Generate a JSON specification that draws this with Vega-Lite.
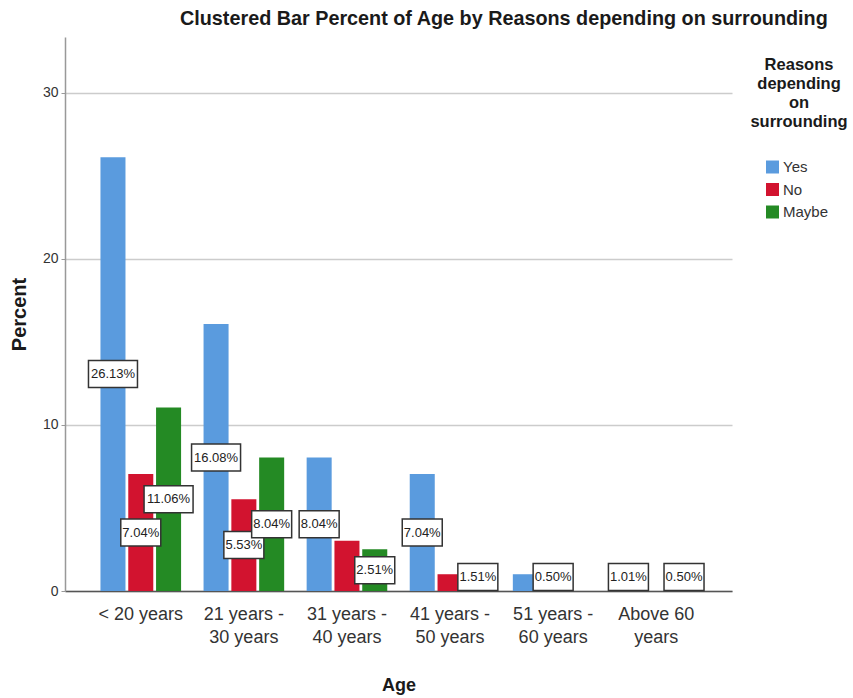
{
  "$schema": "https://vega.github.io/schema/vega-lite/v6.json",
  "width": 667,
  "height": 554,
  "autosize": {"type": "none"},
  "padding": {"left": 65, "top": 37, "right": 121, "bottom": 107},
  "background": "white",
  "title": {
    "text": "Clustered Bar Percent of Age by Reasons depending on surrounding",
    "anchor": "start",
    "frame": "group",
    "dx": 115,
    "offset": 8,
    "font": "Liberation Sans",
    "fontSize": 19.8,
    "fontWeight": "bold",
    "color": "#1a1a1a"
  },
  "config": {
    "view": {"stroke": null},
    "font": "Liberation Sans"
  },
  "data": {
    "values": [
      {"Age": "< 20 years", "Reason": "Yes", "Percent": 26.13, "labelled": true},
      {"Age": "< 20 years", "Reason": "No", "Percent": 7.04, "labelled": true},
      {"Age": "< 20 years", "Reason": "Maybe", "Percent": 11.06, "labelled": true},
      {"Age": "21 years - 30 years", "Reason": "Yes", "Percent": 16.08, "labelled": true},
      {"Age": "21 years - 30 years", "Reason": "No", "Percent": 5.53, "labelled": true},
      {"Age": "21 years - 30 years", "Reason": "Maybe", "Percent": 8.04, "labelled": true},
      {"Age": "31 years - 40 years", "Reason": "Yes", "Percent": 8.04, "labelled": true},
      {"Age": "31 years - 40 years", "Reason": "No", "Percent": 3.02, "labelled": false},
      {"Age": "31 years - 40 years", "Reason": "Maybe", "Percent": 2.51, "labelled": true},
      {"Age": "41 years - 50 years", "Reason": "Yes", "Percent": 7.04, "labelled": true},
      {"Age": "41 years - 50 years", "Reason": "No", "Percent": 1.01, "labelled": false},
      {"Age": "41 years - 50 years", "Reason": "Maybe", "Percent": 1.51, "labelled": true},
      {"Age": "51 years - 60 years", "Reason": "Yes", "Percent": 1.01, "labelled": false},
      {"Age": "51 years - 60 years", "Reason": "No", "Percent": 0.50, "labelled": true},
      {"Age": "Above 60 years", "Reason": "Yes", "Percent": 1.01, "labelled": true},
      {"Age": "Above 60 years", "Reason": "Maybe", "Percent": 0.50, "labelled": true}
    ]
  },
  "encoding": {
    "x": {
      "field": "Age",
      "type": "nominal",
      "sort": ["< 20 years", "21 years - 30 years", "31 years - 40 years", "41 years - 50 years", "51 years - 60 years", "Above 60 years"],
      "scale": {"paddingInner": 0.218, "paddingOuter": 0.344},
      "axis": {
        "title": "Age",
        "titleFontSize": 18,
        "titleFontWeight": "bold",
        "titleColor": "#1a1a1a",
        "titlePadding": 30,
        "labelAngle": 0,
        "labelFontSize": 18,
        "labelColor": "#333333",
        "labelPadding": 14,
        "labelLineHeight": 23,
        "labelExpr": "datum.label === 'Above 60 years' ? ['Above 60', 'years'] : (indexof(datum.label, ' - ') > 0 ? split(replace(datum.label, ' - ', ' -|'), '|') : datum.label)",
        "ticks": false,
        "domainColor": "#555555",
        "domainWidth": 1.5,
        "grid": false
      }
    },
    "xOffset": {
      "field": "Reason",
      "type": "nominal",
      "sort": ["Yes", "No", "Maybe"],
      "scale": {"paddingInner": 0.1, "paddingOuter": 0}
    }
  },
  "layer": [
    {
      "mark": {"type": "bar"},
      "encoding": {
        "y": {
          "field": "Percent",
          "type": "quantitative",
          "scale": {"domain": [0, 33.37], "nice": false},
          "axis": {
            "title": "Percent",
            "titleFontSize": 20,
            "titleFontWeight": "bold",
            "titleColor": "#1a1a1a",
            "titlePadding": 13,
            "values": [0, 10, 20, 30],
            "labelFontSize": 14,
            "labelColor": "#333333",
            "labelPadding": 3,
            "tickSize": 4,
            "tickColor": "#999999",
            "domainColor": "#999999",
            "domainWidth": 1.5,
            "gridColor": "#cccccc",
            "gridWidth": 1.5
          }
        },
        "color": {
          "field": "Reason",
          "type": "nominal",
          "sort": ["Yes", "No", "Maybe"],
          "scale": {"domain": ["Yes", "No", "Maybe"], "range": ["#5A9BDE", "#D2132F", "#248A24"]},
          "legend": {
            "title": ["Reasons", "depending", "on", "surrounding"],
            "orient": "none",
            "legendX": 685,
            "legendY": 20,
            "titleFontSize": 16.5,
            "titleFontWeight": "bold",
            "titleColor": "#1a1a1a",
            "titleAlign": "center",
            "titleAnchor": "middle",
            "titleLineHeight": 19,
            "titlePadding": 29,
            "symbolType": "square",
            "symbolSize": 169,
            "symbolStrokeWidth": 0,
            "symbolOffset": -5,
            "labelFontSize": 15,
            "labelColor": "#333333",
            "labelOffset": 3,
            "rowPadding": 6.5
          }
        }
      }
    },
    {
      "transform": [
        {"filter": "datum.labelled"},
        {"calculate": "max(datum.Percent / 2, 0.84)", "as": "labelY"}
      ],
      "mark": {"type": "point", "filled": true, "fill": "white", "stroke": "#333333", "strokeWidth": 1.5, "opacity": 1},
      "encoding": {
        "y": {"field": "labelY", "type": "quantitative"},
        "shape": {
          "condition": {"test": "datum.Percent >= 10", "value": "M-1,-0.551H1V0.551H-1Z"},
          "value": "M-1,-0.675H1V0.675H-1Z"
        },
        "size": {
          "condition": {"test": "datum.Percent >= 10", "value": 2401},
          "value": 1600
        }
      }
    },
    {
      "transform": [
        {"filter": "datum.labelled"},
        {"calculate": "max(datum.Percent / 2, 0.84)", "as": "labelY"},
        {"calculate": "format(datum.Percent, '.2f') + '%'", "as": "labelText"}
      ],
      "mark": {"type": "text", "fontSize": 13, "color": "#222222", "align": "center", "baseline": "middle"},
      "encoding": {
        "y": {"field": "labelY", "type": "quantitative"},
        "text": {"field": "labelText", "type": "nominal"}
      }
    }
  ]
}
